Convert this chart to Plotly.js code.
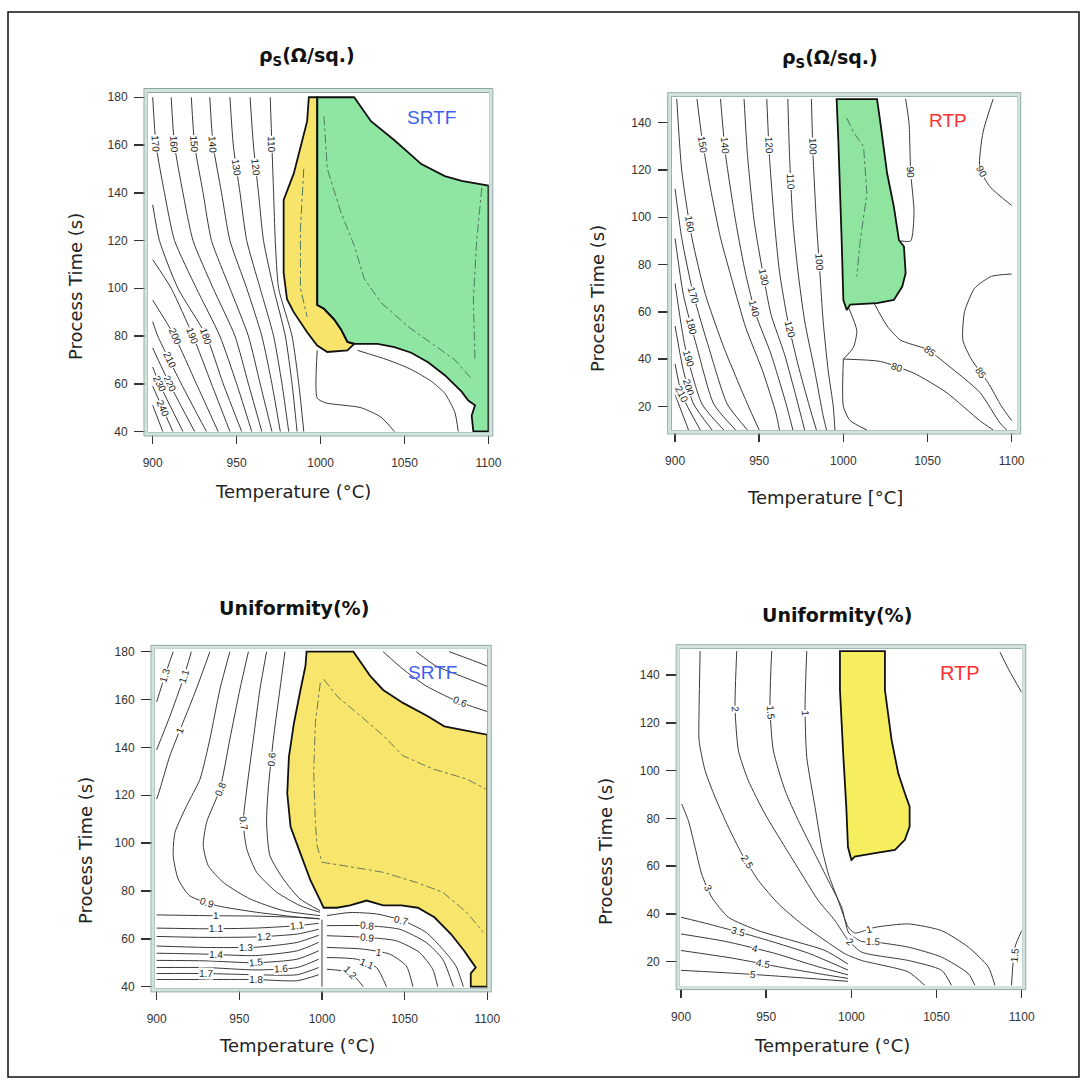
<!DOCTYPE html>
<html>
<head>
<meta charset="utf-8">
<script src="https://cdn.plot.ly/plotly-3.0.1.min.js"></script>
<style>html,body{margin:0;padding:0;background:#fff}#chart{width:1087px;height:1088px}</style>
</head>
<body>
<div id="chart"></div>
<script>
// ================= DATA =================
const xTicks = [900, 950, 1000, 1050, 1100];
const yTicksSRTF = [40, 60, 80, 100, 120, 140, 160, 180];
const yTicksRTP = [20, 40, 60, 80, 100, 120, 140];

// ---- Panel 1 : sheet resistance, SRTF ----
const p1GreenT    = [998, 1020, 1030, 1044, 1060, 1074, 1084, 1100, 1100, 1091, 1090, 1092, 1088, 1084, 1074, 1064, 1054, 1044, 1034, 1020, 1016, 1012, 1008, 1002, 998];
const p1GreenTime = [180, 180, 170, 162, 152, 147, 145, 143, 40, 40, 46.7, 51, 53, 56.7, 63.6, 69, 73, 75.3, 76.7, 76.7, 77.5, 83, 87, 91.4, 93];
const p1YellowT    = [993, 998, 998, 1002, 1008, 1012, 1016, 1020, 1016, 1004, 998, 992, 984, 980, 978, 978, 978, 984, 988, 992];
const p1YellowTime = [180, 180, 93, 91.4, 87, 83, 77.5, 76.7, 74, 73.3, 76, 81.6, 90, 95.4, 106.5, 120.4, 137, 148, 159, 170];
const p1LinesT = [
  [900, 902, 907, 913, 926, 940, 950, 959],
  [911, 913, 918, 924, 936, 949, 957, 965],
  [923, 925, 930, 935, 946, 957, 964, 971],
  [934, 936, 941, 946, 956, 965, 971, 976],
  [946, 948, 952, 956, 964, 972, 977, 981],
  [958, 960, 963, 966, 972, 979, 983, 986],
  [970, 971, 972, 973, 975, 983, 987, 990],
  [900, 904, 915, 932, 942, 953],
  [900, 911, 924, 935, 946],
  [900, 913, 926, 939],
  [900, 903, 917, 932],
  [900, 910, 925],
  [900, 904, 918],
  [900, 912],
  [900, 906],
  [998, 998, 1003, 1024, 1036, 1044],
  [1022, 1040, 1054, 1066, 1074, 1080, 1082]
];
const p1LinesTime = [
  [180, 160, 140, 120, 100, 80, 60, 40],
  [180, 160, 140, 120, 100, 80, 60, 40],
  [180, 160, 140, 120, 100, 80, 60, 40],
  [180, 160, 140, 120, 100, 80, 60, 40],
  [180, 160, 140, 120, 100, 80, 60, 40],
  [180, 160, 140, 120, 100, 80, 60, 40],
  [180, 160, 140, 120, 100, 80, 60, 40],
  [135, 120, 100, 80, 60, 40],
  [112, 100, 80, 60, 40],
  [95, 80, 60, 40],
  [86, 80, 60, 40],
  [75, 60, 40],
  [67, 60, 40],
  [59, 40],
  [51, 40],
  [74, 54, 52, 50, 46, 40],
  [74, 70, 66, 61, 56, 48, 40]
];
const p1Levels = ['170', '160', '150', '140', '130', '120', '110', '180', '190', '200', '210', '220', '230', '240', '250', '', ''];
const p1DashT = [
  [1002, 1004, 1012, 1020, 1026, 1036, 1052, 1066, 1080, 1090],
  [1096, 1093, 1091, 1092],
  [990, 988, 988, 992]
];
const p1DashTime = [
  [172, 150, 132, 118, 104, 94, 84, 77, 70, 62],
  [142, 120, 95, 70],
  [150, 125, 100, 88]
];

// ---- Panel 2 : sheet resistance, RTP ----
const p2GreenT    = [999, 1000, 1002, 1004, 1020, 1030, 1035, 1037, 1036, 1033, 1030, 1026, 1022, 1020, 996, 997];
const p2GreenTime = [90, 65, 60.8, 63, 63.7, 65, 70.7, 76.3, 87.6, 90.4, 104.5, 118.6, 140, 150, 150, 132.7];
const p2LinesT = [
  [901, 904, 910, 918, 929, 943, 950],
  [913, 916, 921, 927, 934, 942, 952, 960, 962],
  [927, 930, 936, 942, 948, 957, 966, 970],
  [941, 943, 947, 952, 957, 965, 972, 977],
  [954.5, 956, 959, 962, 967, 973, 980, 984],
  [967, 968, 970, 973, 977, 983, 988, 990],
  [981, 982, 984, 986, 988, 991, 994, 995],
  [900, 904, 911, 920, 931, 943],
  [900, 905, 913, 923, 936],
  [900, 906, 916, 929],
  [900, 905, 911, 922],
  [900, 904, 915],
  [900, 908],
  [1000, 1022, 1042, 1061, 1081, 1089],
  [1018, 1026, 1034, 1050, 1061, 1081, 1093, 1097],
  [1100, 1088, 1078, 1072, 1071, 1076, 1086, 1094, 1100],
  [1089, 1083, 1081, 1087, 1100],
  [1034, 1040, 1042, 1040, 1039, 1037],
  [1003, 1008, 1006, 1000],
  [1000, 1000, 1004, 1014]
];
const p2LinesTime = [
  [150, 119.5, 91.3, 67.4, 44.9, 21, 10],
  [150, 133.5, 112.4, 91.3, 73, 53.3, 35, 17, 10],
  [150, 126.5, 98.3, 75.8, 58.9, 42.1, 21, 10],
  [150, 126.5, 98.3, 77.2, 58.9, 42.1, 23.8, 10],
  [150, 126.5, 98.3, 77.2, 56.1, 37.8, 19.6, 10],
  [150, 126.5, 98.3, 77.2, 56.1, 35, 16, 10],
  [150, 126, 98, 77, 56, 35, 20, 10],
  [112, 91, 67, 45, 21, 10],
  [91, 67, 45, 21, 10],
  [72, 45, 21, 10],
  [54, 35, 21, 10],
  [38, 25, 10],
  [25, 10],
  [40, 39, 34, 26, 14, 10],
  [64, 54, 48, 44, 38, 26, 13, 10],
  [76, 75, 70, 60, 48, 40, 30, 20, 14],
  [150, 136, 121, 113, 105],
  [90, 90, 102, 119, 140, 150],
  [62, 52, 45, 40],
  [40, 20, 14, 10]
];
const p2Levels = ['160', '150', '140', '130', '120', '110', '100', '170', '180', '190', '200', '210', '', '80', '85', '85', '90', '90', '', ''];
const p2DashT = [[1002, 1006, 1012, 1014, 1010, 1008]];
const p2DashTime = [[142, 136, 130, 110, 90, 75]];

// ---- Panel 3 : uniformity, SRTF ----
const p3YellowT    = [990.7, 1019, 1025, 1029, 1037, 1049, 1064, 1074, 1084, 1100, 1100, 1090, 1090, 1093, 1090, 1086, 1078, 1068, 1058, 1048, 1037, 1027, 1017, 1009, 1001, 999, 993, 987, 981, 979, 980, 983, 987, 990];
const p3YellowTime = [180, 180, 174, 170, 164, 158.6, 153, 148.8, 147.4, 145.3, 40, 40, 45.6, 48, 51, 55, 62, 69, 73, 74, 74, 76, 74, 73, 73, 76, 84.5, 95.6, 106.8, 120.7, 136, 150, 164, 174];
const p3BandT = [900, 930, 960, 985, 998];
const p3LinesT = [
  [910, 905, 900],
  [921, 916, 908, 900],
  [932.2, 924, 916, 908, 902, 900],
  [944.3, 938.3, 932.2, 926.2, 918.2, 911.1, 910, 913, 920, 936.3, 960.5, 986.7, 998.8],
  [955.5, 950.4, 944.3, 938.3, 930.2, 928.2, 931.2, 940.3, 956.4, 976.6, 998.8],
  [966.5, 962.5, 958.5, 954.5, 952.4, 954.5, 960.5, 972.6, 986.7, 998.8],
  [977.6, 974.6, 970.6, 967.5, 966.5, 968.5, 976.6, 986.7, 998.8],
  p3BandT, p3BandT, p3BandT, p3BandT, p3BandT, p3BandT, p3BandT, p3BandT, p3BandT,
  [1003, 1017, 1033, 1049, 1063, 1073, 1081, 1085.5],
  [1003, 1027, 1047, 1063, 1073, 1079.5],
  [1003, 1027, 1045, 1059, 1067, 1070],
  [1003, 1025, 1041, 1051, 1055],
  [1003, 1021, 1033, 1039],
  [1003, 1017, 1025],
  [1037, 1049, 1063, 1077, 1089.5, 1100],
  [1057, 1069, 1083.5, 1100],
  [1077, 1089.5, 1100],
  [1000, 1000]
];
const p3LinesTime = [
  [180, 170, 159],
  [180, 168.5, 153, 139],
  [180, 164.4, 150.5, 136.5, 122.6, 118.4],
  [180, 164.4, 143.5, 126.7, 115.7, 104.5, 94.8, 85, 78, 73.9, 71.1, 69, 68.3],
  [180, 164.4, 143.5, 122.6, 108.7, 99, 90.6, 83.6, 76.7, 71.8, 69.7],
  [180, 164.4, 143.5, 122.6, 108.7, 97.6, 87.8, 79.5, 73.9, 71.1],
  [180, 164.4, 143.5, 122.6, 108.7, 94.8, 85, 76.7, 71.8],
  [70, 69.7, 69.5, 69, 68.5],
  [64.5, 64.2, 64.5, 65.5, 66.5],
  [61, 60.6, 60.8, 62, 64],
  [57, 56.4, 56.5, 58.5, 61.5],
  [54, 53.6, 53, 55, 58.5],
  [51, 50.8, 50, 51.5, 55],
  [48, 48, 47, 48, 51.5],
  [45.5, 45.5, 45, 45, 48],
  [43, 43, 43, 42.5, 45],
  [69.7, 71, 70.4, 67.6, 62.7, 55.7, 48.7, 40],
  [65.5, 65.5, 64, 58.5, 51.5, 40],
  [61.3, 60.6, 59.2, 54.3, 47.3, 40],
  [56.4, 55.7, 53.6, 48.7, 40],
  [52.2, 51.5, 48, 40],
  [47.3, 45.9, 40],
  [180, 172.7, 165.7, 160.8, 157.4, 155],
  [180, 174, 170, 165.5],
  [180, 176.8, 174],
  [68, 40]
];
const p3Levels = ['1.3', '1.1', '1', '0.9', '0.8', '0.7', '0.6',
  '1', '1.1', '1.2', '1.3', '1.4', '1.5', '1.6', '1.7', '1.8',
  '0.7', '0.8', '0.9', '1', '1.1', '1.2', '0.6', '0.7', '0.8', ''];
const p3DashT = [
  [1001, 1009, 1021, 1037, 1049, 1067, 1087.5, 1099],
  [999, 996, 995, 996, 997, 1000, 1013, 1037, 1057, 1073, 1087.5, 1097.6]
];
const p3DashTime = [
  [168.5, 161.5, 154.5, 145, 136.5, 131, 126.8, 122.6],
  [167, 150.5, 129.6, 108.7, 99, 92, 90.6, 87.8, 83.6, 79.5, 71.1, 62.7]
];

// ---- Panel 4 : uniformity, RTP ----
const p4YellowT    = [998, 1000, 1002, 1013.9, 1025.6, 1031.4, 1034.2, 1034.2, 1031.4, 1027.5, 1023.6, 1019.7, 1019.7, 993.3, 993.3, 994.3, 995.3, 997];
const p4YellowTime = [68, 62.6, 64, 65.4, 66.8, 71, 76.6, 84.9, 90.5, 98.9, 112.8, 133.7, 150, 150, 133.7, 119.7, 105.8, 84.9];
const p4LinesT = [
  [973.8, 972.8, 973.8, 978.7, 982.6, 986.5, 992.3, 998.2, 1002, 1014, 1033.5, 1053, 1068.7, 1080.4, 1084.3],
  [953.2, 952.2, 954.2, 961.1, 968.9, 978.7, 986.5, 994.3, 998.5, 1006, 1014, 1033.5, 1053, 1068.7, 1072.6],
  [932.7, 931.7, 933.7, 939.5, 949.3, 961.1, 970.8, 980.6, 990.4, 998.2, 1006.1, 1033.5, 1053, 1058.9],
  [911.2, 910.6, 910.6, 914.1, 920, 927.8, 935.7, 945.4, 957.2, 970.8, 984.5, 996.3, 1006.1, 1033.5, 1043.2],
  [900.4, 904.3, 908.2, 912.1, 918, 927.8, 945.4, 965, 984.5, 998],
  [900, 916, 945, 975, 998],
  [900, 926, 955, 980, 998],
  [900, 930, 960, 985, 998],
  [900, 935, 970, 998],
  [1087.3, 1092.2, 1100],
  [1100, 1096, 1094]
];
const p4LinesTime = [
  [150, 126.3, 105.6, 84.6, 67.9, 56.7, 45.6, 34.4, 32, 34.4, 35.8, 33, 26.1, 17.8, 10],
  [150, 126.3, 108.3, 91.6, 79, 65, 53.9, 42.8, 32, 28.5, 28.2, 26.1, 21.9, 15, 10],
  [150, 126.3, 108.3, 95.8, 81.8, 67.9, 56.7, 45.6, 37.2, 28.9, 24, 20.5, 16.4, 10],
  [150, 126.3, 112.5, 100, 88.8, 76.3, 65.1, 54, 44.2, 35.8, 28.9, 23.3, 20.5, 15.7, 10],
  [86, 79, 67.9, 56.7, 47, 38.6, 33, 28.9, 24.7, 19],
  [38.6, 35.8, 30.2, 23.5, 16.5],
  [31.6, 28.5, 23.5, 18, 14.5],
  [24.7, 21.5, 17.5, 14.5, 13],
  [16.4, 15, 13.3, 11.8],
  [149.5, 142.5, 132.7],
  [33, 26, 10]
];
const p4Levels = ['1', '1.5', '2', '2.5', '3', '3.5', '4', '4.5', '5', '', '1.5'];

// ================= LAYOUT / STYLE =================
const W = 1087, H = 1088;
const TICKFONT = 'Liberation Sans, Arial, sans-serif';
const TITLEFONT = 'DejaVu Sans, Liberation Sans, sans-serif';

// label positions (fraction along each polyline; arrays for several labels)
const p1LabelPos = [0.14, 0.14, 0.14, 0.14, 0.21, 0.21, 0.14, 0.6, 0.5, 0.34, 0.5, 0.5, 0.5, 0.5, null, null, null];
const p2LabelPos = [0.3, 0.14, [0.12, 0.55], 0.45, [0.12, 0.6], 0.2, [0.12, 0.4], 0.4, 0.4, 0.4, 0.5, 0.5, null, 0.3, 0.45, 0.7, 0.55, 0.6, null, null];
const p3LabelPos = [0.5, 0.3, 0.45, 0.72, 0.3, 0.45, 0.3, 0.3, [0.3, 0.75], 0.55, 0.45, 0.3, 0.5, 0.65, 0.25, 0.5, 0.42, 0.2, 0.2, 0.4, 0.5, 0.5, 0.7, null, null, null];
const p4LabelPos = [[0.08, 0.62], [0.08, 0.7], [0.08, 0.7], [0.45], 0.4, 0.4, 0.4, 0.4, 0.4, null, 0.6];

const panels = [
  { s: '',  xpx: [148, 488.8], ypx: [92.5, 432],  xr: [897.2, 1100.2], yr: [39.8, 182], yt: yTicksSRTF,
    fills: [[p1GreenT, p1GreenTime, '#8ee6a2'], [p1YellowT, p1YellowTime, '#f8e46a']],
    LT: p1LinesT, Lt: p1LinesTime, lev: p1Levels, lp: p1LabelPos, DT: p1DashT, Dt: p1DashTime, dcol: '#4f7a5f' },
  { s: '2', xpx: [671.7, 1016.7], ypx: [96.7, 430], xr: [898, 1103], yr: [10, 151], yt: yTicksRTP,
    fills: [[p2GreenT, p2GreenTime, '#8fe4a0']],
    LT: p2LinesT, Lt: p2LinesTime, lev: p2Levels, lp: p2LabelPos, DT: p2DashT, Dt: p2DashTime, dcol: '#4f7a5f' },
  { s: '3', xpx: [155, 487.3], ypx: [649.3, 987.9], xr: [899, 1100], yr: [39.5, 181], yt: yTicksSRTF,
    fills: [[p3YellowT, p3YellowTime, '#f7e56c']],
    LT: p3LinesT, Lt: p3LinesTime, lev: p3Levels, lp: p3LabelPos, DT: p3DashT, Dt: p3DashTime, dcol: '#6f7a55' },
  { s: '4', xpx: [680.2, 1021.7], ypx: [648.7, 985.6], xr: [899.5, 1100], yr: [10, 151], yt: yTicksRTP,
    fills: [[p4YellowT, p4YellowTime, '#f6ee5e']],
    LT: p4LinesT, Lt: p4LinesTime, lev: p4Levels, lp: p4LabelPos, DT: [], Dt: [], dcol: '#6f7a55' }
];

const traces = [];
const annotations = [];
const shapes = [];
const layout = {
  width: W, height: H, autosize: false,
  margin: { l: 0, r: 0, t: 0, b: 0 },
  paper_bgcolor: '#ffffff', plot_bgcolor: '#ffffff',
  showlegend: false
};

function pointAt(T, t, frac) {
  const n = T.length;
  const f = frac * (n - 1);
  const i = Math.max(0, Math.min(Math.floor(f), n - 2));
  const r = f - i;
  return { x: T[i] + (T[i + 1] - T[i]) * r, y: t[i] + (t[i + 1] - t[i]) * r, i: i };
}

panels.forEach(p => {
  const xa = 'x' + p.s, ya = 'y' + p.s;
  layout['xaxis' + p.s] = {
    domain: [p.xpx[0] / W, p.xpx[1] / W], range: p.xr, anchor: ya,
    tickvals: xTicks, ticks: 'outside', ticklen: 11, tickwidth: 1.5, tickcolor: '#333',
    showline: true, mirror: true, linecolor: '#8aa9a0', linewidth: 1,
    showgrid: false, zeroline: false, ticklabelstandoff: 9,
    tickfont: { family: TICKFONT, size: 12, color: '#333' }
  };
  layout['yaxis' + p.s] = {
    domain: [1 - p.ypx[1] / H, 1 - p.ypx[0] / H], range: p.yr, anchor: xa,
    tickvals: p.yt, ticks: 'outside', ticklen: 13, tickwidth: 1.5, tickcolor: '#333',
    showline: true, mirror: true, linecolor: '#8aa9a0', linewidth: 1,
    showgrid: false, zeroline: false, ticklabelstandoff: 4,
    tickfont: { family: TICKFONT, size: 12, color: '#333' }
  };
  // double frame
  shapes.push({ type: 'rect', xref: 'paper', yref: 'paper', layer: 'above',
    x0: (p.xpx[0] - 2) / W, x1: (p.xpx[1] + 2) / W, y0: 1 - (p.ypx[1] + 2) / H, y1: 1 - (p.ypx[0] - 2) / H,
    line: { color: '#d3e2dd', width: 3 } });
  shapes.push({ type: 'rect', xref: 'paper', yref: 'paper', layer: 'above',
    x0: (p.xpx[0] - 4) / W, x1: (p.xpx[1] + 4) / W, y0: 1 - (p.ypx[1] + 4) / H, y1: 1 - (p.ypx[0] - 4) / H,
    line: { color: '#8aa9a0', width: 1 } });

  // filled regions (fill only; outlines drawn later as separate closed lines)
  p.fills.forEach(f => {
    traces.push({ type: 'scatter', mode: 'lines', x: f[0], y: f[1],
      xaxis: xa, yaxis: ya, fill: 'toself', fillcolor: f[2], line: { width: 0 }, hoverinfo: 'skip' });
  });
  p.DT.forEach((T, k) => {
    traces.push({ type: 'scatter', mode: 'lines', x: T, y: p.Dt[k], xaxis: xa, yaxis: ya,
      line: { color: p.dcol, width: 1, dash: 'dashdot' }, hoverinfo: 'skip' });
  });
  const kx = (p.xpx[1] - p.xpx[0]) / (p.xr[1] - p.xr[0]);
  const ky = (p.ypx[1] - p.ypx[0]) / (p.yr[1] - p.yr[0]);
  p.LT.forEach((T, k) => {
    const tt = p.Lt[k];
    traces.push({ type: 'scatter', mode: 'lines', x: T, y: tt, xaxis: xa, yaxis: ya,
      line: { color: '#3a3a3a', width: 1, shape: 'spline', smoothing: 0.6 }, hoverinfo: 'skip' });
    const pos = p.lp[k];
    if (pos === null || pos === undefined || !p.lev[k]) return;
    const list = Array.isArray(pos) ? pos : [pos];
    list.forEach(fr => {
      const pt = pointAt(T, tt, fr);
      const dx = (T[pt.i + 1] - T[pt.i]) * kx;
      const dy = -(tt[pt.i + 1] - tt[pt.i]) * ky;
      let ang = Math.atan2(dy, dx) * 180 / Math.PI;
      if (ang > 90) ang -= 180;
      if (ang < -90) ang += 180;
      annotations.push({ x: pt.x, y: pt.y, xref: xa, yref: ya, text: p.lev[k], showarrow: false,
        textangle: ang, font: { family: TICKFONT, size: 10, color: '#222' },
        bgcolor: '#ffffff', borderpad: 0 });
    });
  });
  // region outlines: closed loop, wrapping past the start so the closing edge is always stroked
  p.fills.forEach(f => {
    const xs = f[0].concat([f[0][0], f[0][1]]);
    const ys = f[1].concat([f[1][0], f[1][1]]);
    traces.push({ type: 'scatter', mode: 'lines', x: xs, y: ys, xaxis: xa, yaxis: ya,
      line: { color: '#111', width: 1.8, simplify: false }, hoverinfo: 'skip' });
  });
});

function paperText(text, px, py, opts) {
  annotations.push(Object.assign({ text: text, x: px / W, y: 1 - py / H, xref: 'paper', yref: 'paper',
    showarrow: false, xanchor: 'center', yanchor: 'middle' }, opts));
}
const titleFont = { family: TITLEFONT, size: 19, color: '#111' };
const axFont = { family: TITLEFONT, size: 18, color: '#222' };

paperText('<b>ρ<sub>S</sub>(Ω/sq.)</b>', 307, 57, { font: titleFont });
paperText('<b>ρ<sub>S</sub>(Ω/sq.)</b>', 830, 58, { font: titleFont });
paperText('<b>Uniformity(%)</b>', 294, 608, { font: titleFont });
paperText('<b>Uniformity(%)</b>', 837, 615, { font: titleFont });

paperText('Temperature (°C)', 293, 492, { font: axFont });
paperText('Temperature [°C]', 825, 497, { font: axFont });
paperText('Temperature (°C)', 297, 1045, { font: axFont });
paperText('Temperature (°C)', 832, 1045, { font: axFont });

paperText('Process Time (s)', 75, 287, { font: axFont, textangle: -90 });
paperText('Process Time (s)', 597, 298, { font: axFont, textangle: -90 });
paperText('Process Time (s)', 85, 851, { font: axFont, textangle: -90 });
paperText('Process Time (s)', 605, 852, { font: axFont, textangle: -90 });

const blue = '#3f5ff0', red = '#ff3030';
paperText('SRTF', 431, 118, { font: { family: TICKFONT, size: 19, color: blue } });
paperText('RTP', 948, 120, { font: { family: TICKFONT, size: 19, color: red } });
paperText('SRTF', 432, 672, { font: { family: TICKFONT, size: 19, color: blue } });
paperText('RTP', 960, 673, { font: { family: TICKFONT, size: 20, color: red } });

// outer figure border
shapes.push({ type: 'rect', xref: 'paper', yref: 'paper', layer: 'above',
  x0: 8 / W, x1: 1079 / W, y0: 1 - 1077 / H, y1: 1 - 12 / H, line: { color: '#111', width: 1.5 } });

layout.annotations = annotations;
layout.shapes = shapes;

Plotly.newPlot('chart', traces, layout, { staticPlot: true, displayModeBar: false });
</script>
</body>
</html>
